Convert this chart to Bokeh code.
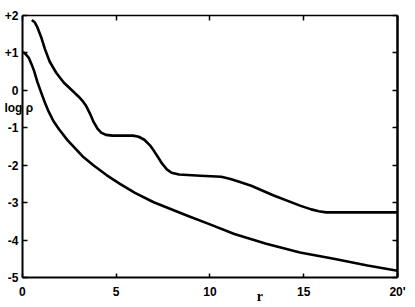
from bokeh.plotting import figure
from bokeh.models import LinearAxis, FixedTicker, Label, Range1d
from bokeh.embed import file_html
from bokeh.resources import INLINE

# upper curve
r_upper = [0.5, 0.65, 0.8, 1.0, 1.2, 1.45, 1.8, 2.2, 2.75, 3.0, 3.2, 3.4, 3.6, 3.8, 4.0, 4.2, 4.45, 4.8,
           5.9, 6.2, 6.5, 6.8, 7.0, 7.25, 7.45, 7.7, 7.95, 8.35, 9.5, 10.6, 11.1, 11.6, 12.2, 13.4, 14.8,
           15.4, 15.8, 16.2, 20.0]
logrho_upper = [1.88, 1.82, 1.68, 1.42, 1.10, 0.77, 0.47, 0.21, -0.05, -0.17, -0.28, -0.42, -0.62, -0.85,
                -1.02, -1.13, -1.19, -1.21, -1.21, -1.24, -1.32, -1.47, -1.61, -1.80, -1.96, -2.11, -2.20,
                -2.25, -2.28, -2.31, -2.37, -2.45, -2.55, -2.81, -3.08, -3.18, -3.23, -3.26, -3.26]
# lower curve
r_lower = [0.0, 0.1, 0.2, 0.35, 0.5, 0.62, 0.8, 1.0, 1.2, 1.4, 1.65, 1.95, 2.4, 2.75, 3.2, 3.8, 4.5, 5.2,
           6.0, 7.0, 8.8, 10.0, 11.3, 13.0, 14.8, 16.6, 18.4, 20.0]
logrho_lower = [1.02, 1.0, 0.95, 0.86, 0.68, 0.52, 0.22, -0.06, -0.33, -0.57, -0.82, -1.04, -1.33, -1.52,
                -1.76, -2.01, -2.27, -2.50, -2.74, -2.99, -3.35, -3.58, -3.84, -4.10, -4.33, -4.50, -4.68,
                -4.82]

x_ticks = [0, 5, 10, 15, 20]
x_tick_labels = {0: "0", 5: "5", 10: "10", 15: "15", 20: "20'"}
y_ticks = [-5, -4, -3, -2, -1, 0, 1, 2]
y_tick_labels = {-5: "-5", -4: "-4", -3: "-3", -2: "-2", -1: "-1", 0: "0", 1: "+1", 2: "+2"}

R_MIN, R_MAX = 0, 20
LOG_MIN, LOG_MAX = -5, 2

FONT = "Liberation Sans"

# The frame fills the whole canvas; the four axes are pinned to the box
# r = 0..20, log rho = -5..+2 so that labels outside the box are not clipped.
p = figure(width=412, height=305, x_range=Range1d(-1.17, 20.80), y_range=Range1d(-5.748, 2.40),
           output_backend="svg", toolbar_location=None,
           x_axis_location=None, y_axis_location=None,
           min_border_left=0, min_border_right=0, min_border_top=0, min_border_bottom=0)
p.grid.grid_line_color = None
p.outline_line_color = None
p.background_fill_color = "white"
p.border_fill_color = "white"


def style(ax, labels, ticks, overrides=None):
    ax.ticker = FixedTicker(ticks=ticks)
    ax.axis_line_color = "black"
    ax.axis_line_width = 2
    ax.major_tick_in = 5
    ax.major_tick_out = 0
    ax.major_tick_line_width = 1.5
    ax.minor_tick_line_color = None
    if labels:
        ax.major_label_text_font = FONT
        ax.major_label_text_font_style = "bold"
        ax.major_label_text_font_size = "12px"
        ax.major_label_text_color = "black"
        ax.major_label_overrides = overrides
    else:
        ax.major_label_text_font_size = "1px"
        ax.major_label_text_color = None
        ax.major_label_standoff = 0


xb = LinearAxis(bounds=(R_MIN, R_MAX), fixed_location=LOG_MIN)
style(xb, True, x_ticks, x_tick_labels)
xb.major_label_standoff = 7
xb.major_tick_in = 4
p.add_layout(xb, "below")

yl = LinearAxis(bounds=(LOG_MIN, LOG_MAX), fixed_location=R_MIN)
style(yl, True, y_ticks, y_tick_labels)
yl.major_label_standoff = 4
p.add_layout(yl, "left")

xt = LinearAxis(bounds=(R_MIN, R_MAX), fixed_location=LOG_MAX)
style(xt, False, x_ticks)
xt.axis_line_width = 1.5
p.add_layout(xt, "above")

yr = LinearAxis(bounds=(LOG_MIN, LOG_MAX), fixed_location=R_MAX)
style(yr, False, y_ticks)
yr.axis_line_width = 2.5
p.add_layout(yr, "right")

p.line(r_upper, logrho_upper, line_color="black", line_width=2.6, line_join="round")
p.line(r_lower, logrho_lower, line_color="black", line_width=2.6, line_join="round")

p.add_layout(Label(x=-0.96, y=-0.46, text="log ρ", text_font=FONT, text_font_style="bold",
                   text_font_size="12px", text_baseline="middle", text_color="black"))
p.add_layout(Label(x=12.5, y=-5.51, text="r", text_font="Liberation Serif", text_font_style="bold",
                   text_font_size="14px", text_baseline="middle", text_color="black"))

open("out.html", "w").write(file_html(p, INLINE))
